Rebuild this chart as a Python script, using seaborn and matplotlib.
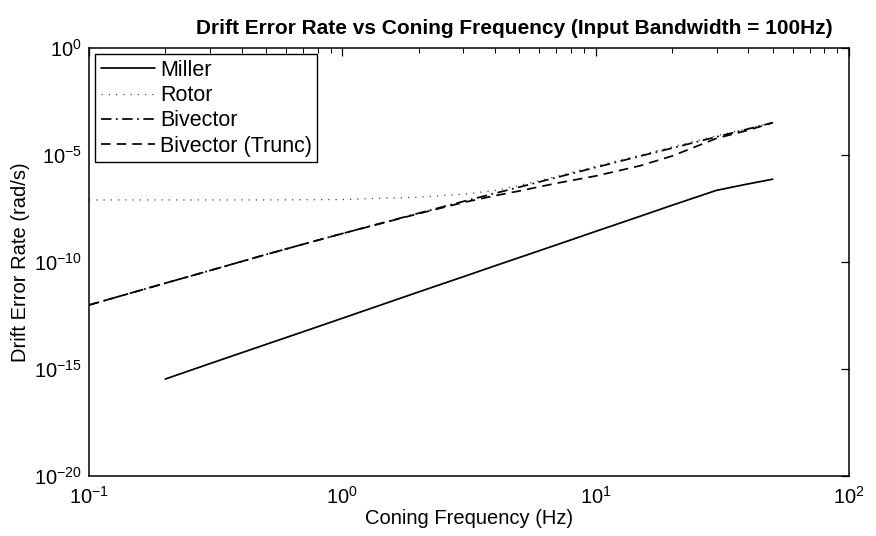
import numpy as np
import pandas as pd
import matplotlib
matplotlib.use("Agg")
import matplotlib.pyplot as plt
import matplotlib.ticker as mticker
import seaborn as sns

# ---- data (log10 of drift error rate) ----
freq = [0.1, 0.2, 0.3, 0.5, 0.7, 1, 2, 3, 4, 5, 7, 10, 15, 20, 30, 40, 50]
miller_log = [np.nan, -15.47, -14.75, -13.85, -13.26, -12.63, -11.40, -10.69, -10.18,
              -9.79, -9.20, -8.57, -7.86, -7.35, -6.65, -6.35, -6.13]
rotor_log = [-7.10, -7.10, -7.10, -7.10, -7.09, -7.08, -6.97, -6.83, -6.66,
             -6.42, -6.00, -5.52, -5.00, -4.62, -4.10, -3.76, -3.47]
bivector_log = [-12.01, -10.99, -10.40, -9.65, -9.17, -8.67, -7.72, -7.17, -6.79,
                -6.50, -6.05, -5.58, -5.05, -4.68, -4.15, -3.78, -3.49]
trunc_log = [-12.01, -10.99, -10.40, -9.65, -9.17, -8.67, -7.74, -7.22, -6.90,
             -6.68, -6.32, -5.98, -5.50, -5.05, -4.22, -3.84, -3.49]
series_names = ["Miller", "Rotor", "Bivector", "Bivector (Trunc)"]
title = "Drift Error Rate vs Coning Frequency (Input Bandwidth = 100Hz)"
xlabel = "Coning Frequency (Hz)"
ylabel = "Drift Error Rate (rad/s)"

sns.set_style("white")
plt.rcParams["font.family"] = ["Liberation Sans", "DejaVu Sans"]
plt.rcParams["mathtext.fontset"] = "custom"
plt.rcParams["mathtext.rm"] = "Liberation Sans"
plt.rcParams["mathtext.it"] = "Liberation Sans:italic"
plt.rcParams["mathtext.bf"] = "Liberation Sans:bold"
plt.rcParams["text.color"] = "black"
plt.rcParams["axes.labelcolor"] = "black"
plt.rcParams["xtick.color"] = "black"
plt.rcParams["ytick.color"] = "black"

frames = []
for name, vals in zip(series_names, [miller_log, rotor_log, bivector_log, trunc_log]):
    frames.append(pd.DataFrame({"freq": freq, "err": 10.0 ** np.array(vals), "method": name}))
df = pd.concat(frames, ignore_index=True)

styles = {
    "Miller": dict(ls="-", lw=1.25, color="black"),
    "Rotor": dict(ls=(0, (1, 4.8)), lw=0.9, color="#444444"),
    "Bivector": dict(ls=(0, (6, 2.6, 1, 2.6)), lw=1.25, color="black"),
    "Bivector (Trunc)": dict(ls=(0, (5.5, 3.5)), lw=1.25, color="black"),
}

fig = plt.figure(figsize=(8.76, 5.36), dpi=100)
ax = fig.add_axes([0.1016, 0.112, 0.8676, 0.7984])

for name in series_names:
    sub = df[df["method"] == name].dropna()
    st = styles[name]
    sns.lineplot(data=sub, x="freq", y="err", ax=ax, color=st["color"],
                 linestyle=st["ls"], linewidth=st["lw"], label=name, sort=False)

ax.set_xscale("log")
ax.set_yscale("log")
ax.set_xlim(0.1, 100)
ax.set_ylim(1e-20, 1e0)
ax.set_yticks([1e-20, 1e-15, 1e-10, 1e-5, 1e0])
ax.yaxis.set_minor_locator(mticker.NullLocator())
ax.xaxis.set_minor_locator(mticker.LogLocator(base=10, subs=np.arange(2, 10)))
ax.xaxis.set_minor_formatter(mticker.NullFormatter())

ax.tick_params(which="both", direction="in", top=True, right=True, colors="black",
               labelcolor="black", labelsize=14.5)
ax.tick_params(which="major", length=6, width=0.9)
ax.tick_params(which="minor", length=3.5, width=0.7)
ax.tick_params(axis="x", pad=7)
ax.tick_params(axis="y", pad=5)
for sp in ax.spines.values():
    sp.set_color("black")
    sp.set_linewidth(1.1)

ax.set_xlabel(xlabel, fontsize=14.5, labelpad=1, color="black")
ax.set_ylabel(ylabel, fontsize=14.5, labelpad=3, color="black")
ax.set_title(title, fontsize=15, fontweight="bold", pad=10, x=0.559, color="black")

leg = ax.legend(loc="upper left", fontsize=15.5, frameon=True, fancybox=False,
                borderaxespad=0.3, handlelength=2.5, handletextpad=0.25,
                labelspacing=0.2, borderpad=0.25)
leg.get_frame().set_edgecolor("black")
leg.get_frame().set_linewidth(1.0)
leg.get_frame().set_alpha(1)
for t in leg.get_texts():
    t.set_color("black")

fig.savefig("out.png", dpi=100, facecolor="white")
